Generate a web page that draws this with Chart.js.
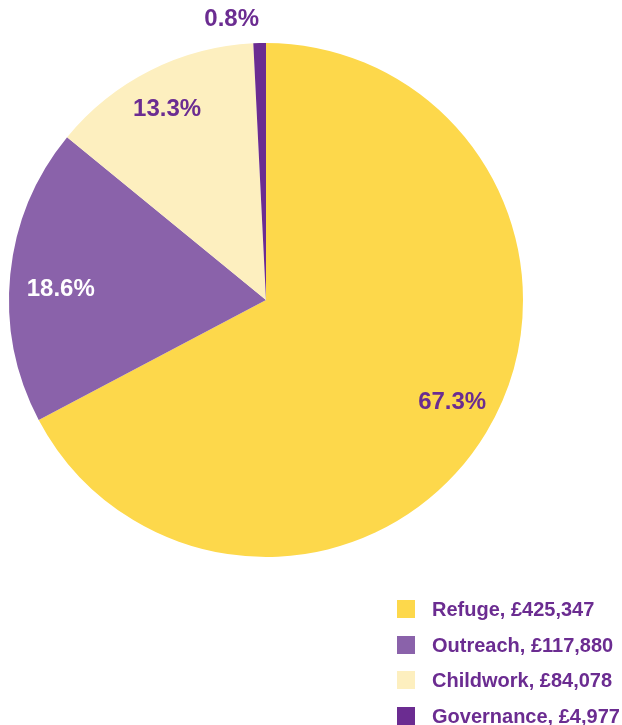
<!DOCTYPE html>
<html>
<head>
<meta charset="utf-8">
<script src="https://cdn.jsdelivr.net/npm/chart.js@4/dist/chart.umd.min.js"></script>
<style>
  html, body { margin: 0; padding: 0; background: #fff; }
  #wrap { position: relative; width: 622px; height: 725px; }
  #legend { position: absolute; left: 397px; top: 600px; font-family: "Liberation Sans", Arial, sans-serif; }
  .row { height: 35.5px; display: flex; align-items: flex-start; }
  .box { width: 18px; height: 18px; margin-right: 17px; }
  .txt { font-weight: bold; font-size: 20px; color: #6b2c91; line-height: 18px; }
</style>
</head>
<body>
<div id="wrap">
  <canvas id="pie" width="622" height="725"></canvas>
  <div id="legend"></div>
</div>
<script>
const categories = ["Refuge", "Outreach", "Childwork", "Governance"];
const amounts = [425347, 117880, 84078, 4977];
const amountLabels = ["£425,347", "£117,880", "£84,078", "£4,977"];
const percentLabels = ["67.3%", "18.6%", "13.3%", "0.8%"];
const sliceColors = ["#fdd84b", "#8a62aa", "#fdefbf", "#6b2c91"];
const labelColors = ["#6b2c91", "#ffffff", "#6b2c91", "#6b2c91"];

// legend
var legendEl = document.getElementById("legend");
categories.forEach(function (name, i) {
  var row = document.createElement("div");
  row.className = "row";
  var box = document.createElement("div");
  box.className = "box";
  box.style.backgroundColor = sliceColors[i];
  var txt = document.createElement("div");
  txt.className = "txt";
  txt.textContent = name + ", " + amountLabels[i];
  row.appendChild(box);
  row.appendChild(txt);
  legendEl.appendChild(row);
});

// percentage labels: radius factor and angle nudge (degrees) per slice
const labelRadius = [0.825, 0.80, 0.84];
const labelNudge = [-2.5, -2.5, -0.5];

const sliceLabels = {
  id: "sliceLabels",
  afterDatasetsDraw(chart) {
    const ctx = chart.ctx;
    const meta = chart.getDatasetMeta(0);
    ctx.save();
    ctx.font = "bold 24px 'Liberation Sans', Arial, sans-serif";
    ctx.textBaseline = "middle";
    meta.data.forEach(function (arc, i) {
      let mid = (arc.startAngle + arc.endAngle) / 2;
      let r;
      ctx.textAlign = "center";
      if (i === 3) {
        r = arc.outerRadius + 25;
        ctx.textAlign = "right";
      } else {
        r = arc.outerRadius * labelRadius[i];
        mid += labelNudge[i] * Math.PI / 180;
      }
      const x = arc.x + Math.cos(mid) * r;
      const y = arc.y + Math.sin(mid) * r + 1;
      ctx.fillStyle = labelColors[i];
      ctx.fillText(percentLabels[i], x, y);
    });
    ctx.restore();
  }
};

new Chart(document.getElementById("pie").getContext("2d"), {
  type: "pie",
  data: {
    labels: categories,
    datasets: [{
      data: amounts,
      backgroundColor: sliceColors,
      borderWidth: 0
    }]
  },
  options: {
    responsive: false,
    animation: false,
    layout: { padding: { left: 9, right: 99, top: 43, bottom: 168 } },
    plugins: {
      legend: { display: false },
      tooltip: { enabled: false }
    }
  },
  plugins: [sliceLabels]
});
</script>
</body>
</html>
